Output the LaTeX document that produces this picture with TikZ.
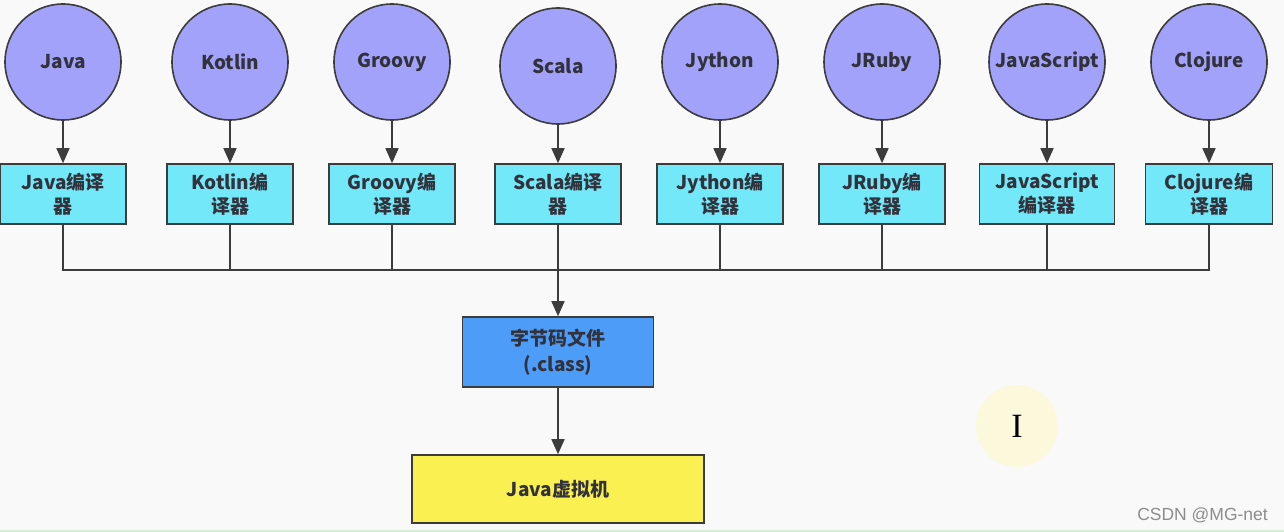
\documentclass[tikz,border=0pt]{standalone}
\usepackage{fontspec}
\setmainfont{Noto Sans CJK SC}
\newfontfamily\wmfont{Liberation Sans}
\newfontfamily\curfont{Liberation Serif}
\usetikzlibrary{arrows.meta}
\definecolor{bg}{RGB}{249,249,249}
\definecolor{lang}{RGB}{162,162,250}
\definecolor{comp}{RGB}{114,232,248}
\definecolor{bytec}{RGB}{76,156,248}
\definecolor{jvmc}{RGB}{250,240,82}
\definecolor{edge}{RGB}{60,60,60}
\definecolor{txt}{RGB}{50,50,60}
\definecolor{curs}{RGB}{251,248,220}
\tikzset{
  langnode/.style={circle,draw=edge,line width=1.6pt,fill=lang,minimum size=116pt,inner sep=0pt,
    font=\fontsize{19}{22}\selectfont\bfseries,text=txt},
  compnode/.style={rectangle,draw=edge,line width=1.6pt,fill=comp,minimum height=60pt,inner sep=0pt,
    align=center,font=\fontsize{19}{24}\selectfont\bfseries,text=txt},
  bignode/.style={rectangle,draw=edge,line width=1.6pt,minimum height=70pt,inner sep=0pt,
    align=center,font=\fontsize{19}{26}\selectfont\bfseries,text=txt},
  link/.style={draw=edge,line width=1.6pt},
  arr/.style={link,-{Triangle[length=15pt,width=13pt]}}
}
\begin{document}
\begin{tikzpicture}[x=1pt,y=-1pt]
\fill[bg] (0,0) rectangle (1284,532);
\useasboundingbox (0,0) rectangle (1284,532);
\draw[color={rgb,255:red,214;green,238;blue,214},line width=2pt] (0,531) -- (1284,531);
% languages
\node[langnode] (l1) at (63,62) {Java};
\node[langnode] (l2) at (230,62) {Kotlin};
\node[langnode] (l3) at (392,62) {Groovy};
\node[langnode] (l4) at (558,66) {Scala};
\node[langnode] (l5) at (720,62) {Jython};
\node[langnode] (l6) at (882,62) {JRuby};
\node[langnode] (l7) at (1047,62) {JavaScript};
\node[langnode] (l8) at (1209,62) {Clojure};
% compilers
\node[compnode,minimum width=126pt] (c1) at (63,194) {Java编译\\器};
\node[compnode,minimum width=126pt] (c2) at (230,194) {Kotlin编\\译器};
\node[compnode,minimum width=126pt] (c3) at (392,194) {Groovy编\\译器};
\node[compnode,minimum width=126pt] (c4) at (558,194) {Scala编译\\器};
\node[compnode,minimum width=126pt] (c5) at (720,194) {Jython编\\译器};
\node[compnode,minimum width=126pt] (c6) at (882,194) {JRuby编\\译器};
\node[compnode,minimum width=135pt] (c7) at (1047,194) {JavaScript\\编译器};
\node[compnode,minimum width=127pt] (c8) at (1209,194) {Clojure编\\译器};
% bytecode and jvm
\node[bignode,fill=bytec,minimum width=191pt] (bc) at (558,352) {字节码文件\\(.class)};
\node[bignode,fill=jvmc,minimum width=292pt,minimum height=68pt] (jvm) at (558,489) {Java虚拟机};
% arrows lang -> compiler
\foreach \i in {1,...,8} {\draw[arr] (l\i) -- (c\i);}
% bus
\coordinate (busL) at (63,270);
\coordinate (busR) at (1209,270);
\draw[link] (c1.south) -- (busL) -- (busR) -- (c8.south);
\foreach \i in {2,3,5,6,7} {\draw[link] (c\i.south) -- (c\i.south |- busL);}
\draw[arr] (c4.south) -- (bc.north);
\draw[arr] (bc.south) -- (jvm.north);
% cursor highlight
\node[circle,fill=curs,minimum size=82pt,inner sep=0pt,font=\curfont\fontsize{34}{34}\selectfont,text=black] (cur) at (1017,426) {I};
% watermark
\node[anchor=east,inner sep=0pt,font=\wmfont\fontsize{17.5}{19}\selectfont,text={rgb,255:red,140;green,140;blue,140}] (wm) at (1268,515) {CSDN @MG-net};
\end{tikzpicture}
\end{document}
